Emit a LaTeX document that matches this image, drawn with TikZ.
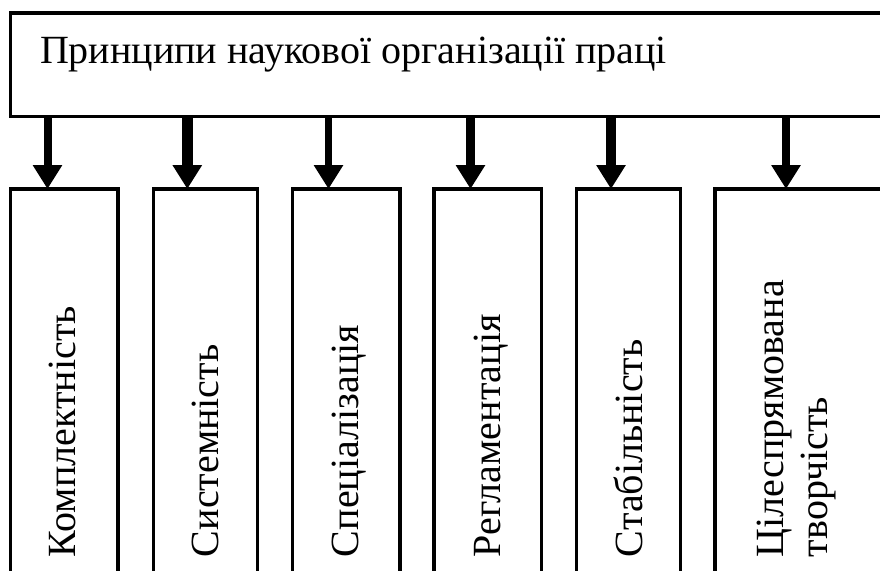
\documentclass[tikz,border=0pt]{standalone}
\usepackage{fontspec}
\setmainfont{Liberation Serif}
\newfontfamily\serfont{Liberation Serif}
\usetikzlibrary{arrows.meta}
\begin{document}
\begin{tikzpicture}[x=1pt,y=-1pt,
  frame/.style={draw,line width=3.5pt,inner sep=0pt,outer sep=0pt},
  col/.style={frame,anchor=north west,minimum height=420pt},
  lbl/.style={font=\serfont\fontsize{40}{44}\selectfont,inner sep=0pt,outer sep=0pt},
  vlbl/.style={lbl,rotate=90,anchor=base west},
  arr/.style={line width=8pt,-{Triangle[width=28pt,length=24pt]}}]
\clip (0,0) rectangle (880,570);
\node[frame,anchor=north west,minimum width=900pt,minimum height=103.5pt] (top) at (10.5,13) {};
\node[lbl,anchor=base west] (title) at (40,63) {Принципи наукової організації праці};
\node[col,minimum width=107.5pt] (b1) at (10.5,189) {};
\node[col,minimum width=104pt] (b2) at (153.5,189) {};
\node[col,minimum width=107.5pt] (b3) at (292.5,189) {};
\node[col,minimum width=107.5pt] (b4) at (434,189) {};
\node[col,minimum width=104pt] (b5) at (576.5,189) {};
\node[col,minimum width=185pt] (b6) at (715,189) {};
\coordinate (t1) at ([xshift=37pt]b1.north west);
\coordinate (t2) at ([xshift=33.8pt]b2.north west);
\coordinate (t3) at ([xshift=36pt]b3.north west);
\coordinate (t4) at ([xshift=36.5pt]b4.north west);
\coordinate (t5) at ([xshift=34.5pt]b5.north west);
\coordinate (t6) at ([xshift=71pt]b6.north west);
\draw[arr] (top.south -| t1) -- (t1);
\draw[arr,line width=11pt] (top.south -| t2) -- (t2);
\draw[arr,line width=7.5pt] (top.south -| t3) -- (t3);
\draw[arr,line width=9pt] (top.south -| t4) -- (t4);
\draw[arr,line width=10pt] (top.south -| t5) -- (t5);
\draw[arr] (top.south -| t6) -- (t6);
\node[vlbl] (l1) at (75,557) {Комплектність};
\node[vlbl] (l2) at (218,557) {Системність};
\node[vlbl] (l3) at (358,557) {Спеціалізація};
\node[vlbl] (l4) at (500,557) {Регламентація};
\node[vlbl] (l5) at (642,557) {Стабільність};
\node[vlbl] (l6a) at (783,557) {Цілеспрямована};
\node[vlbl] (l6b) at (827,557) {творчість};
\end{tikzpicture}
\end{document}
